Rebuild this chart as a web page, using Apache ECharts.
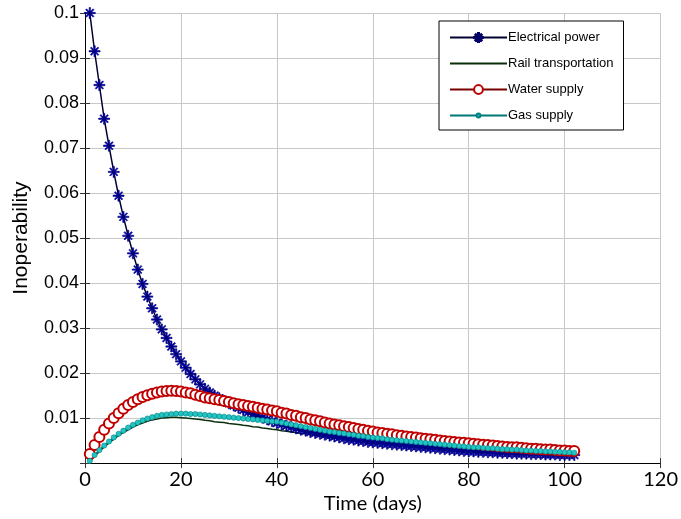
<!DOCTYPE html>
<html>
<head>
<meta charset="utf-8">
<title>Inoperability</title>
<script src="https://cdn.jsdelivr.net/npm/echarts@6/dist/echarts.min.js"></script>
<style>
  html, body { margin: 0; padding: 0; background: #fff; }
  #main { width: 681px; height: 519px; }
</style>
</head>
<body>
<div id="main"></div>
<script type="text/javascript">
// time axis (days)
var days = [1,2,3,4,5,6,7,8,9,10,11,12,13,14,15,16,17,18,19,20,
  21,22,23,24,25,26,27,28,29,30,31,32,33,34,35,36,37,38,39,40,
  41,42,43,44,45,46,47,48,49,50,51,52,53,54,55,56,57,58,59,60,
  61,62,63,64,65,66,67,68,69,70,71,72,73,74,75,76,77,78,79,80,
  81,82,83,84,85,86,87,88,89,90,91,92,93,94,95,96,97,98,99,100,101,102];

var electricalPower = [0.1,0.0915,0.084,0.0765,0.0705,0.0647,0.0594,0.0547,0.0505,0.0466,
  0.0430,0.0398,0.0370,0.0344,0.0319,0.0297,0.0278,0.0259,0.0242,0.0226,
  0.0212,0.0198,0.0186,0.0175,0.0165,0.0157,0.0150,0.0144,0.0138,0.0133,
  0.0128,0.0123,0.0118,0.0113,0.0109,0.0105,0.0101,0.0097,0.0093,0.0089,
  0.0086,0.0083,0.0080,0.0077,0.0074,0.0072,0.0069,0.0067,0.0065,0.0063,
  0.0061,0.0059,0.0057,0.0055,0.0053,0.0052,0.0050,0.0049,0.0047,0.0046,
  0.0045,0.0044,0.0043,0.0042,0.0041,0.0040,0.0039,0.0038,0.0037,0.0036,
  0.0035,0.0034,0.0033,0.0032,0.0031,0.0030,0.0029,0.0028,0.0027,0.0026,
  0.0026,0.0025,0.0025,0.0024,0.0024,0.0023,0.0023,0.0022,0.0022,0.0021,
  0.0021,0.0021,0.0020,0.0020,0.0020,0.0019,0.0019,0.0019,0.0018,0.0018,0.0018,0.0018];

var railTransportation = [0.0003,0.0015,0.0026,0.0036,0.0045,0.0053,0.0061,0.0068,0.0074,0.0080,
  0.0085,0.0089,0.0093,0.0096,0.0098,0.0100,0.0101,0.0102,0.0102,0.0101,
  0.0100,0.0099,0.0098,0.0097,0.0095,0.0094,0.0092,0.0091,0.0090,0.0088,
  0.0087,0.0086,0.0084,0.0083,0.0081,0.0080,0.0078,0.0077,0.0075,0.0074,
  0.0072,0.0071,0.0069,0.0068,0.0066,0.0065,0.0063,0.0062,0.0060,0.0059,
  0.0057,0.0056,0.0055,0.0053,0.0052,0.0051,0.0050,0.0048,0.0047,0.0046,
  0.0045,0.0044,0.0043,0.0042,0.0041,0.0040,0.0039,0.0038,0.0037,0.0036,
  0.0035,0.0034,0.0033,0.0033,0.0032,0.0031,0.0030,0.0030,0.0029,0.0028,
  0.0028,0.0027,0.0026,0.0026,0.0025,0.0025,0.0024,0.0024,0.0023,0.0023,
  0.0022,0.0022,0.0021,0.0021,0.0021,0.0020,0.0020,0.0020,0.0019,0.0019,0.0019,0.0018];

var waterSupply = [0.0020,0.0040,0.0058,0.0074,0.0088,0.0100,0.0111,0.0121,0.0129,0.0136,
  0.0142,0.0147,0.0151,0.0154,0.0157,0.0159,0.0160,0.0161,0.0160,0.0159,
  0.0157,0.0155,0.0152,0.0149,0.0146,0.0144,0.0142,0.0140,0.0138,0.0136,
  0.0133,0.0131,0.0129,0.0127,0.0125,0.0123,0.0121,0.0119,0.0117,0.0115,
  0.0112,0.0110,0.0107,0.0105,0.0102,0.0100,0.0097,0.0095,0.0093,0.0090,
  0.0088,0.0086,0.0084,0.0082,0.0080,0.0078,0.0076,0.0074,0.0072,0.0070,
  0.0068,0.0067,0.0065,0.0064,0.0062,0.0061,0.0059,0.0058,0.0057,0.0055,
  0.0054,0.0053,0.0052,0.0050,0.0049,0.0048,0.0047,0.0046,0.0045,0.0044,
  0.0043,0.0042,0.0041,0.0040,0.0039,0.0038,0.0037,0.0036,0.0035,0.0035,
  0.0034,0.0033,0.0032,0.0032,0.0031,0.0030,0.0030,0.0029,0.0028,0.0028,0.0027,0.0027];

var gasSupply = [0.0005,0.0018,0.0029,0.0039,0.0048,0.0057,0.0065,0.0072,0.0079,0.0085,
  0.0090,0.0095,0.0099,0.0102,0.0105,0.0107,0.0108,0.0109,0.0110,0.0110,
  0.0110,0.0109,0.0109,0.0108,0.0107,0.0106,0.0105,0.0104,0.0103,0.0102,
  0.0101,0.0100,0.0099,0.0098,0.0097,0.0096,0.0095,0.0094,0.0093,0.0092,
  0.0090,0.0088,0.0086,0.0084,0.0082,0.0080,0.0078,0.0076,0.0074,0.0072,
  0.0070,0.0069,0.0067,0.0066,0.0064,0.0063,0.0061,0.0060,0.0058,0.0057,
  0.0056,0.0055,0.0053,0.0052,0.0051,0.0050,0.0049,0.0048,0.0047,0.0046,
  0.0045,0.0044,0.0043,0.0042,0.0041,0.0040,0.0039,0.0038,0.0037,0.0036,
  0.0035,0.0035,0.0034,0.0033,0.0033,0.0032,0.0031,0.0031,0.0030,0.0030,
  0.0029,0.0028,0.0028,0.0027,0.0027,0.0026,0.0026,0.0025,0.0025,0.0024,0.0024,0.0023];

var seriesNames = ['Electrical power', 'Rail transportation', 'Water supply', 'Gas supply'];

// asterisk marker like matlab '*'
var asterisk = 'path://M0,4.4L10,4.4L10,5.6L0,5.6Z M4.4,0L5.6,0L5.6,10L4.4,10Z ' +
  'M1.2,2L2,1.2L8.8,8L8,8.8Z M8,1.2L8.8,2L2,8.8L1.2,8Z';
// dot inside a larger empty box so the legend dot stays small
var smallDot = 'path://M0,0Z M12,12Z M3.4,6A2.6,2.6 0 1 1 8.6,6A2.6,2.6 0 1 1 3.4,6Z';

function pairs(vals) {
    var out = [];
    for (var i = 0; i < vals.length; i++) {
        out.push([days[i], vals[i]]);
    }
    return out;
}

var myChart = echarts.init(document.getElementById('main'));

var tickFont = 'Liberation Sans, Arial, sans-serif';

myChart.setOption({
    animation: false,
    backgroundColor: '#fff',
    grid: { left: 85, right: 16, top: 13, bottom: 51 },
    legend: {
        data: [
            { name: seriesNames[0] },
            { name: seriesNames[1], itemStyle: { opacity: 0 } },
            { name: seriesNames[2] },
            { name: seriesNames[3] }
        ],
        orient: 'vertical',
        left: 439,
        top: 21,
        width: 220,
        padding: [10, 10, 8, 10],
        itemWidth: 57,
        itemHeight: 11,
        itemGap: 13,
        backgroundColor: '#fff',
        borderColor: '#000',
        borderWidth: 1,
        textStyle: { fontFamily: tickFont, fontSize: 13, color: '#000', padding: [0, 0, 0, -4] }
    },
    xAxis: [
        {
            type: 'value', min: 0, max: 120, interval: 20,
            name: 'Time (days)', nameLocation: 'middle', nameGap: 29,
            nameTextStyle: { fontFamily: 'Lato, Open Sans, sans-serif', fontSize: 20, color: '#000' },
            axisLine: { lineStyle: { color: '#333', width: 1 } },
            axisTick: { inside: true, length: 5, lineStyle: { color: '#333' } },
            axisLabel: { fontFamily: 'Lato, Open Sans, sans-serif', fontSize: 20, color: '#000', margin: 6 },
            splitLine: { show: true, lineStyle: { color: '#c8c8c8', width: 1 } }
        },
        {
            type: 'value', min: 0, max: 120, interval: 20, position: 'top',
            axisLine: { lineStyle: { color: '#000', width: 1 } },
            axisTick: { inside: true, length: 5, lineStyle: { color: '#333' } },
            axisLabel: { show: false },
            splitLine: { show: false }
        }
    ],
    yAxis: [
        {
            type: 'value', min: 0, max: 0.1, interval: 0.01,
            name: 'Inoperability', nameLocation: 'middle', nameGap: 53, nameRotate: 90,
            nameTextStyle: { fontFamily: tickFont, fontSize: 21, color: '#000' },
            axisLine: { show: true, lineStyle: { color: '#333', width: 1 } },
            axisTick: { show: true, inside: true, length: 5, lineStyle: { color: '#333' } },
            axisLabel: {
                fontFamily: tickFont, fontSize: 18, color: '#000', margin: 6,
                formatter: function (v) { return v === 0 ? '' : String(+v.toFixed(2)); }
            },
            splitLine: { show: true, lineStyle: { color: '#c8c8c8', width: 1 } }
        },
        {
            type: 'value', min: 0, max: 0.1, interval: 0.01, position: 'right',
            axisLine: { show: true, lineStyle: { color: '#000', width: 1 } },
            axisTick: { show: true, inside: true, length: 5, lineStyle: { color: '#333' } },
            axisLabel: { show: false },
            splitLine: { show: false }
        }
    ],
    series: [
        {
            name: seriesNames[0], type: 'line', data: pairs(electricalPower),
            symbol: asterisk, symbolSize: 11, showSymbol: true,
            lineStyle: { color: '#000033', width: 1.5 },
            itemStyle: { color: '#0000cc', borderColor: '#000066', borderWidth: 0.6 }
        },
        {
            name: seriesNames[1], type: 'line', data: pairs(railTransportation),
            symbol: 'none',
            lineStyle: { color: '#0b2e0b', width: 1.5 },
            itemStyle: { color: '#0b2e0b' }
        },
        {
            name: seriesNames[2], type: 'line', data: pairs(waterSupply),
            symbol: 'emptyCircle', symbolSize: 10,
            lineStyle: { color: '#7a0000', width: 1.5 },
            itemStyle: { color: '#c00000', borderWidth: 1.3 }
        },
        {
            name: seriesNames[3], type: 'line', data: pairs(gasSupply),
            symbol: smallDot, symbolSize: 12,
            lineStyle: { color: '#007777', width: 1.5 },
            itemStyle: { color: '#22c4c4', borderColor: '#008080', borderWidth: 0.6 }
        }
    ]
});
</script>
</body>
</html>
